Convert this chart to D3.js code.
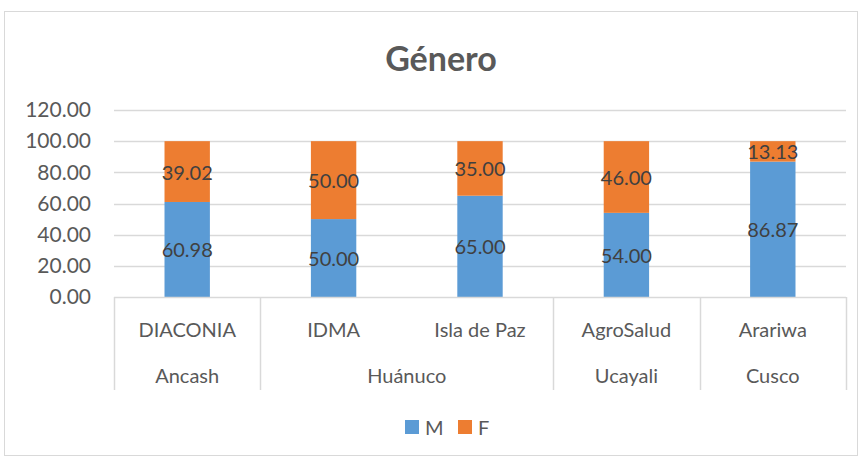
<!DOCTYPE html>
<html>
<head>
<meta charset="utf-8">
<script src="https://cdn.jsdelivr.net/npm/d3@7"></script>
<style>
  html, body { margin: 0; padding: 0; background: #fff; }
  svg { display: block; font-family: Lato, "Open Sans", sans-serif; }
</style>
</head>
<body>
<svg id="chart" width="862" height="456"></svg>
<script>
const title = "Género";
const orgs = ["DIACONIA", "IDMA", "Isla de Paz", "AgroSalud", "Arariwa"];
const regions = ["Ancash", "Huánuco", "Huánuco", "Ucayali", "Cusco"];
const mValues = [60.98, 50.00, 65.00, 54.00, 86.87];
const fValues = [39.02, 50.00, 35.00, 46.00, 13.13];
const yTicks = [0, 20, 40, 60, 80, 100, 120];
const seriesNames = ["M", "F"];
const seriesColors = ["#5B9BD5", "#ED7D31"];

const svg = d3.select("#chart");
const textColor = "#595959";
const gridColor = "#D9D9D9";

// chart border
svg.append("rect")
  .attr("x", 4.5).attr("y", 11.5)
  .attr("width", 853).attr("height", 444)
  .attr("fill", "#fff").attr("stroke", gridColor).attr("stroke-width", 1);

// title
svg.append("text")
  .attr("x", 441).attr("y", 57)
  .attr("text-anchor", "middle").attr("dominant-baseline", "central")
  .attr("font-size", 34).attr("font-weight", "bold")
  .attr("fill", textColor).text(title);

const plot = { left: 114, right: 846, top: 110, bottom: 297 };

const y = d3.scaleLinear().domain([0, 120]).range([plot.bottom, plot.top]);
const x = d3.scaleBand().domain(orgs).range([plot.left, plot.right])
  .paddingInner(0.69).paddingOuter(0.345);
const step = x.step();

// gridlines
svg.append("g").selectAll("line").data(yTicks.filter(t => t > 0)).join("line")
  .attr("x1", plot.left).attr("x2", plot.right)
  .attr("y1", d => Math.round(y(d)) + 0.5).attr("y2", d => Math.round(y(d)) + 0.5)
  .attr("stroke", gridColor).attr("stroke-width", 1.5);

// y axis labels
const yAxis = d3.axisLeft(y).tickValues(yTicks).tickFormat(d3.format(".2f")).tickSize(0).tickPadding(23);
const gy = svg.append("g").attr("transform", `translate(${plot.left},0)`).call(yAxis);
gy.select(".domain").remove();
gy.selectAll("text").attr("font-size", 21).attr("fill", textColor)
  .attr("font-family", "Lato, 'Open Sans', sans-serif");

// stacked data
const data = orgs.map((o, i) => ({ org: o, M: mValues[i], F: fValues[i] }));
const stack = d3.stack().keys(seriesNames)(data);

const layers = svg.append("g").selectAll("g").data(stack).join("g")
  .attr("fill", (d, i) => seriesColors[i]);
layers.selectAll("rect").data(d => d).join("rect")
  .attr("x", d => x(d.data.org))
  .attr("width", x.bandwidth())
  .attr("y", d => y(d[1]))
  .attr("height", d => y(d[0]) - y(d[1]));

// data labels
const labels = svg.append("g");
stack.forEach((layer, i) => {
  labels.selectAll(null).data(layer).join("text")
    .attr("x", d => x(d.data.org) + x.bandwidth() / 2)
    .attr("y", d => (y(d[0]) + y(d[1])) / 2)
    .attr("text-anchor", "middle").attr("dominant-baseline", "central")
    .attr("font-size", 20).attr("fill", "#404040")
    .text(d => d3.format(".2f")(d[1] - d[0]));
});

// axis line and multi-level category box
const axisG = svg.append("g");
const boxBottom = 390;
axisG.append("line")
  .attr("x1", plot.left).attr("x2", plot.right)
  .attr("y1", plot.bottom + 0.5).attr("y2", plot.bottom + 0.5)
  .attr("stroke", gridColor).attr("stroke-width", 1.5);

// region groups
const groups = [];
regions.forEach((r, i) => {
  if (groups.length && groups[groups.length - 1].name === r) groups[groups.length - 1].count++;
  else groups.push({ name: r, start: i, count: 1 });
});
const bounds = [0];
groups.forEach(g => bounds.push(g.start + g.count));
axisG.selectAll("line.sep").data(bounds).join("line")
  .attr("class", "sep")
  .attr("x1", b => Math.round(plot.left + b * step) + 0.5)
  .attr("x2", b => Math.round(plot.left + b * step) + 0.5)
  .attr("y1", plot.bottom).attr("y2", boxBottom)
  .attr("stroke", gridColor).attr("stroke-width", 1.5);

axisG.selectAll("text.org").data(orgs).join("text")
  .attr("class", "org")
  .attr("x", d => x(d) + x.bandwidth() / 2)
  .attr("y", 329)
  .attr("text-anchor", "middle").attr("dominant-baseline", "central")
  .attr("font-size", 20).attr("fill", textColor).text(d => d);

axisG.selectAll("text.reg").data(groups).join("text")
  .attr("class", "reg")
  .attr("x", g => plot.left + (g.start + g.count / 2) * step)
  .attr("y", 375)
  .attr("text-anchor", "middle").attr("dominant-baseline", "central")
  .attr("font-size", 20).attr("fill", textColor).text(g => g.name);

// legend
const legend = svg.append("g");
const legendX = [405, 458];
seriesNames.forEach((s, i) => {
  legend.append("rect").attr("x", legendX[i]).attr("y", 420)
    .attr("width", 14).attr("height", 14).attr("fill", seriesColors[i]);
  legend.append("text").attr("x", legendX[i] + 20).attr("y", 427)
    .attr("dominant-baseline", "central").attr("font-size", 20)
    .attr("fill", textColor).text(s);
});
</script>
</body>
</html>
